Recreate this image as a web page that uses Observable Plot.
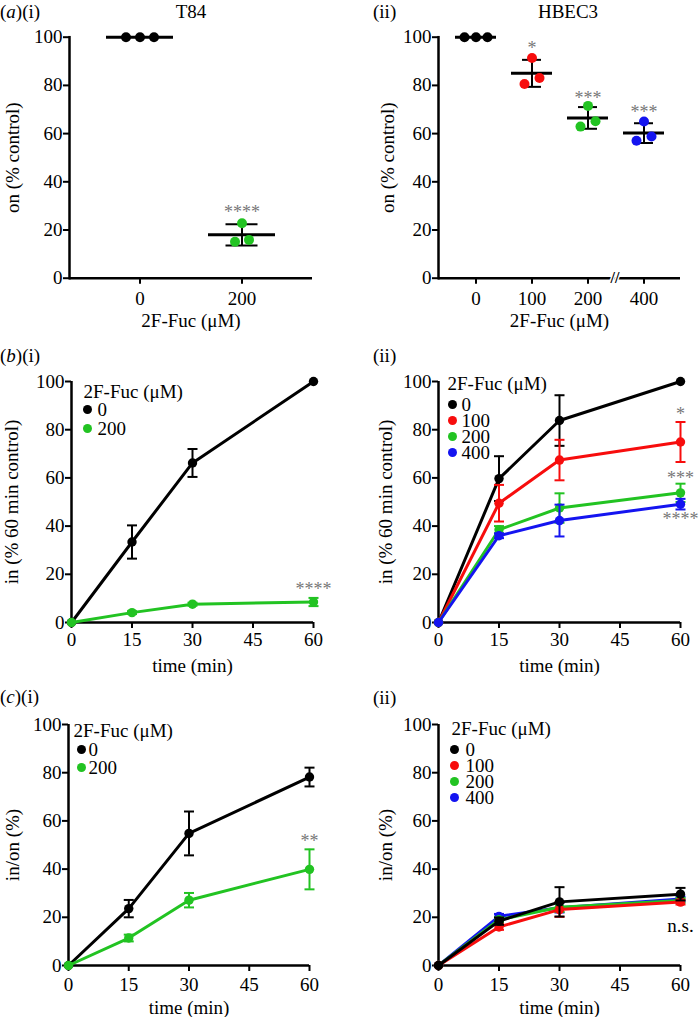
<!DOCTYPE html>
<html><head><meta charset="utf-8">
<script src="https://cdn.jsdelivr.net/npm/d3@7"></script>
<script src="https://cdn.jsdelivr.net/npm/@observablehq/plot@0.6"></script>
<style>
body{margin:0;background:#fff;}
#fig{position:relative;width:699px;height:1017px;font-family:"Liberation Serif","Times New Roman",serif;color:#000;overflow:hidden;background:#fff}
#fig svg text{font-family:"Liberation Serif","Times New Roman",serif}
.lbl{position:absolute;font-size:19px;line-height:1;white-space:nowrap;transform:translateY(-50%)}
.ttl{position:absolute;font-size:19px;line-height:1;white-space:nowrap;transform:translate(-50%,-50%)}
</style></head><body><div id="fig"></div>
<script>
// ---------------- data ----------------
const fucLabel = "2F-Fuc (μM)";
const yTicks = [0, 20, 40, 60, 80, 100];
const timeTicks = [0, 15, 30, 45, 60];
const times = [0, 15, 30, 60];
const concColors = {"0": "#000000", "100": "#f70d0d", "200": "#22c322", "400": "#1414f0"};

// (a)(i) T84 — on (% control), three replicates per concentration
const a1Conc = ["0", "200"];
const a1Rep = [[100, 100, 100], [15.1, 22.8, 15.9]];
const a1Mean = [100, 18.0];
const a1SD = [0, 4.4];
const a1Sig = ["", "****"];
const a1SigY = [null, 27.5];

// (a)(ii) HBEC3
const a2Conc = ["0", "100", "200", "400"];
const a2Rep = [[100, 100, 100], [80.6, 91.4, 83.1], [62.9, 71.5, 65.1], [57.0, 65.0, 58.8]];
const a2Mean = [100, 85.0, 66.5, 60.2];
const a2SD = [0, 5.6, 4.5, 4.1];
const a2Sig = ["", "*", "***", "***"];
const a2SigY = [null, 95.5, 74.8, 68.8];

// (b)(i) T84 — in (% 60 min control)
const b1Mean0 = [0, 33.4, 66.2, 100];   const b1Err0 = [0, 6.9, 5.8, 0];
const b1Mean200 = [0, 4.1, 7.6, 8.5];   const b1Err200 = [0, 0.6, 0.6, 1.7];
const b1Sig = "****"; const b1SigY = 14.0;

// (b)(ii) HBEC3
const b2Mean0 = [0, 59.7, 83.8, 100];   const b2Err0 = [0, 9.3, 10.5, 0];
const b2Mean100 = [0, 49.5, 67.4, 74.9]; const b2Err100 = [0, 7.6, 8.4, 8.3];
const b2Mean200 = [0, 38.5, 47.5, 53.8]; const b2Err200 = [0, 1.5, 6.1, 3.8];
const b2Mean400 = [0, 36.0, 42.3, 49.1]; const b2Err400 = [0, 1.0, 6.6, 2.2];
const b2Sig = ["*", "***", "****"]; const b2SigY = [86.5, 60.0, 43.0];

// (c)(i) T84 — in/on (%)
const c1Mean0 = [0, 23.6, 54.8, 78.2];   const c1Err0 = [0, 3.6, 9.1, 3.9];
const c1Mean200 = [0, 11.4, 27.1, 39.9]; const c1Err200 = [0, 1.4, 3.0, 8.3];
const c1Sig = "**"; const c1SigY = 51.5;

// (c)(ii) HBEC3
const c2Mean0 = [0, 18.4, 26.4, 29.6];   const c2Err0 = [0, 1.5, 6.1, 2.6];
const c2Mean100 = [0, 16.0, 23.2, 26.3]; const c2Err100 = [0, 1.2, 3.0, 1.0];
const c2Mean200 = [0, 19.0, 24.2, 27.0]; const c2Err200 = [0, 1.0, 2.0, 1.0];
const c2Mean400 = [0, 20.4, 24.0, 27.6]; const c2Err400 = [0, 1.0, 2.0, 1.0];
const c2Sig = "n.s."; const c2SigY = 16.3;

// ---------------- helpers ----------------
const FONT = '"Liberation Serif", "Times New Roman", serif';
const FS = 19;
const fig = document.getElementById("fig");
const cap = {draw(ctx, size) { const w = Math.sqrt(size / Math.PI); ctx.moveTo(-w, 0); ctx.lineTo(w, 0); }};

function place(node, L) {
  node.style.position = "absolute";
  node.style.left = L.left + "px";
  node.style.top = L.top + "px";
  fig.appendChild(node);
}

function legendMarks(concs, L) {
  const m = [Plot.text([fucLabel], {frameAnchor: "top-left", dx: L.tx, dy: L.ty, text: d => d, textAnchor: "start", lineAnchor: "middle", fontSize: FS, fontFamily: FONT})];
  concs.forEach((c, i) => {
    m.push(Plot.dot([c], {frameAnchor: "top-left", dx: L.dotX, dy: L.y0 + i * L.step, r: 4.5, fill: concColors[c], stroke: null}));
    m.push(Plot.text([c], {frameAnchor: "top-left", dx: L.textX, dy: L.y0 + i * L.step, text: d => d, textAnchor: "start", lineAnchor: "middle", fontSize: FS, fontFamily: FONT}));
  });
  return m;
}

function catPanel(P) {
  const rows = P.conc.map((c, i) => ({c, m: P.mean[i], sd: P.sd[i], sig: P.sig[i], sy: P.sigY[i]}));
  const withSD = rows.filter(d => d.sd > 0);
  const marks = [
    Plot.ruleY([0], {strokeWidth: 2.5}),
    Plot.frame({anchor: "left", strokeWidth: 2.5}),
    Plot.axisY({ticks: yTicks, tickSize: 6, tickPadding: 1, strokeWidth: 2, fontFamily: FONT, label: "on (% control)", labelAnchor: "center", labelArrow: "none", labelOffset: P.ylo}),
    Plot.axisX({tickSize: 6, tickPadding: P.xtp, strokeWidth: 2, fontFamily: FONT, label: fucLabel, labelAnchor: "center", labelArrow: "none", labelOffset: P.xlo}),
    Plot.tickY(rows, {x: "c", y: "m", strokeWidth: 3}),
    Plot.ruleX(withSD, {x: "c", y1: d => d.m - d.sd, y2: d => d.m + d.sd, strokeWidth: 2}),
    Plot.tickY(withSD, {x: "c", y: d => d.m + d.sd, insetLeft: P.capInset, insetRight: P.capInset, strokeWidth: 2}),
    Plot.tickY(withSD, {x: "c", y: d => d.m - d.sd, insetLeft: P.capInset, insetRight: P.capInset, strokeWidth: 2})
  ];
  P.conc.forEach((c, i) => {
    const spread = i === 0 ? P.ctrlSpread : P.spread;
    P.rep[i].forEach((v, r) => {
      marks.push(Plot.dot([{c, v}], {x: "c", y: "v", dx: (r - 1) * spread, r: 5, fill: concColors[c], stroke: null}));
    });
  });
  marks.push(Plot.text(rows.filter(d => d.sig), {x: "c", y: "sy", text: "sig", fill: "#777", fontSize: 18, fontFamily: FONT}));
  if (P.brk) marks.push(Plot.text(["//"], {x: () => P.brk, y: () => 0, dx: P.brkDx, text: d => d, fontSize: 16, fontWeight: "bold", fill: "#000", stroke: "#fff", strokeWidth: 3, fontFamily: FONT}));
  const svg = Plot.plot({
    width: P.width, height: P.height,
    marginTop: P.mt, marginBottom: P.mb, marginLeft: P.ml, marginRight: P.mr,
    style: {fontFamily: FONT, fontSize: FS + "px", background: "transparent", overflow: "visible", color: "#000"},
    x: {type: "band", domain: P.conc, paddingInner: P.pi, paddingOuter: P.po, label: null},
    y: {domain: [0, 100], label: null},
    marks
  });
  place(svg, P);
}

function timePanel(P) {
  const marks = [
    Plot.ruleY([0], {strokeWidth: 2.5}),
    Plot.ruleX([0], {strokeWidth: 2.5}),
    Plot.axisY({ticks: yTicks, tickSize: 6, tickPadding: 1, strokeWidth: 2, fontFamily: FONT, label: P.ylabel, labelAnchor: "center", labelArrow: "none", labelOffset: P.ylo}),
    Plot.axisX({ticks: timeTicks, tickSize: 6, tickPadding: P.xtp, strokeWidth: 2, fontFamily: FONT, label: "time (min)", labelAnchor: "center", labelArrow: "none", labelOffset: P.xlo})
  ];
  for (const s of P.series) {
    const col = concColors[s.conc];
    const rows = times.map((t, i) => ({t, v: s.v[i], e: s.e[i]}));
    const eb = rows.filter(d => d.e > 0);
    marks.push(
      Plot.line(rows, {x: "t", y: "v", stroke: col, strokeWidth: 3}),
      Plot.ruleX(eb, {x: "t", y1: d => d.v - d.e, y2: d => d.v + d.e, stroke: col, strokeWidth: 2}),
      Plot.dot(eb, {x: "t", y: d => d.v + d.e, symbol: cap, r: 5, stroke: col, strokeWidth: 2, fill: "none"}),
      Plot.dot(eb, {x: "t", y: d => d.v - d.e, symbol: cap, r: 5, stroke: col, strokeWidth: 2, fill: "none"}),
      Plot.dot(rows, {x: "t", y: "v", r: 4.7, fill: col, stroke: null})
    );
  }
  for (const g of P.sig) {
    marks.push(Plot.text([g], {x: () => 60, y: d => d.y, text: d => d.s, fill: g.fill || "#777", fontSize: g.fs || 18, fontFamily: FONT}));
  }
  marks.push(...legendMarks(P.series.map(s => s.conc).sort((a, b) => +a - +b), P.legend));
  const svg = Plot.plot({
    width: P.width, height: P.height,
    marginTop: P.mt, marginBottom: P.mb, marginLeft: P.ml, marginRight: P.mr,
    style: {fontFamily: FONT, fontSize: FS + "px", background: "transparent", overflow: "visible", color: "#000"},
    x: {domain: [0, 60], label: null},
    y: {domain: [0, 100], label: null},
    marks
  });
  place(svg, P);
}

// ---------------- panels ----------------
catPanel({left: 0, top: 20, width: 340, height: 320, mt: 16.7, mb: 62.3, ml: 69, mr: 28,
  conc: a1Conc, rep: a1Rep, mean: a1Mean, sd: a1SD, sig: a1Sig, sigY: a1SigY,
  pi: 0.34, po: 0.35, capInset: 17.5, ctrlSpread: 14, spread: 7, ylo: 63.6, xlo: 49, xtp: 7});

catPanel({left: 350, top: 20, width: 349, height: 320, mt: 16.7, mb: 62.3, ml: 88, mr: 19,
  conc: a2Conc, rep: a2Rep, mean: a2Mean, sd: a2SD, sig: a2Sig, sigY: a2SigY,
  pi: 0.27, po: 0.295, capInset: 11, ctrlSpread: 11.5, spread: 7.5, ylo: 57.6, xlo: 49, xtp: 7,
  brk: "400", brkDx: -29});

timePanel({left: 0, top: 360, width: 340, height: 316, mt: 21, mb: 54, ml: 71, mr: 27,
  ylabel: "in (% 60 min control)", ylo: 66.6, xlo: 49, xtp: 4,
  series: [{conc: "0", v: b1Mean0, e: b1Err0}, {conc: "200", v: b1Mean200, e: b1Err200}],
  sig: [{s: b1Sig, y: b1SigY}],
  legend: {tx: 12, ty: 10, dotX: 16, textX: 26, y0: 28, step: 19}});

timePanel({left: 350, top: 360, width: 349, height: 316, mt: 21, mb: 54, ml: 88, mr: 19,
  ylabel: "in (% 60 min control)", ylo: 59.6, xlo: 49, xtp: 4,
  series: [{conc: "0", v: b2Mean0, e: b2Err0}, {conc: "100", v: b2Mean100, e: b2Err100},
           {conc: "200", v: b2Mean200, e: b2Err200}, {conc: "400", v: b2Mean400, e: b2Err400}],
  sig: b2Sig.map((s, i) => ({s, y: b2SigY[i]})),
  legend: {tx: 9, ty: 2, dotX: 14, textX: 23, y0: 23, step: 16}});

timePanel({left: 0, top: 700, width: 340, height: 317, mt: 24, mb: 52, ml: 68, mr: 31,
  ylabel: "in/on (%)", ylo: 62.6, xlo: 48, xtp: 6,
  series: [{conc: "0", v: c1Mean0, e: c1Err0}, {conc: "200", v: c1Mean200, e: c1Err200}],
  sig: [{s: c1Sig, y: c1SigY}],
  legend: {tx: 5, ty: 6, dotX: 13, textX: 20, y0: 25, step: 18}});

timePanel({left: 350, top: 700, width: 349, height: 317, mt: 24, mb: 52, ml: 88, mr: 19,
  ylabel: "in/on (%)", ylo: 59.6, xlo: 48, xtp: 6,
  series: [{conc: "400", v: c2Mean400, e: c2Err400}, {conc: "200", v: c2Mean200, e: c2Err200},
           {conc: "100", v: c2Mean100, e: c2Err100}, {conc: "0", v: c2Mean0, e: c2Err0}],
  sig: [{s: c2Sig, y: c2SigY, fill: "#000", fs: 19}],
  legend: {tx: 13, ty: 4, dotX: 16, textX: 27, y0: 25, step: 16}});

// ---------------- panel labels & titles ----------------
function addLabel(html, x, y, cls) {
  const d = document.createElement("div");
  d.className = cls; d.innerHTML = html;
  d.style.left = x + "px"; d.style.top = y + "px";
  fig.appendChild(d);
}
addLabel("(<i>a</i>)(i)", 0, 11, "lbl");
addLabel("T84", 191, 11, "ttl");
addLabel("(ii)", 373, 11, "lbl");
addLabel("HBEC3", 568, 11, "ttl");
addLabel("(<i>b</i>)(i)", 0, 355, "lbl");
addLabel("(ii)", 373, 355, "lbl");
addLabel("(<i>c</i>)(i)", 0, 696, "lbl");
addLabel("(ii)", 373, 697, "lbl");
</script></body></html>
